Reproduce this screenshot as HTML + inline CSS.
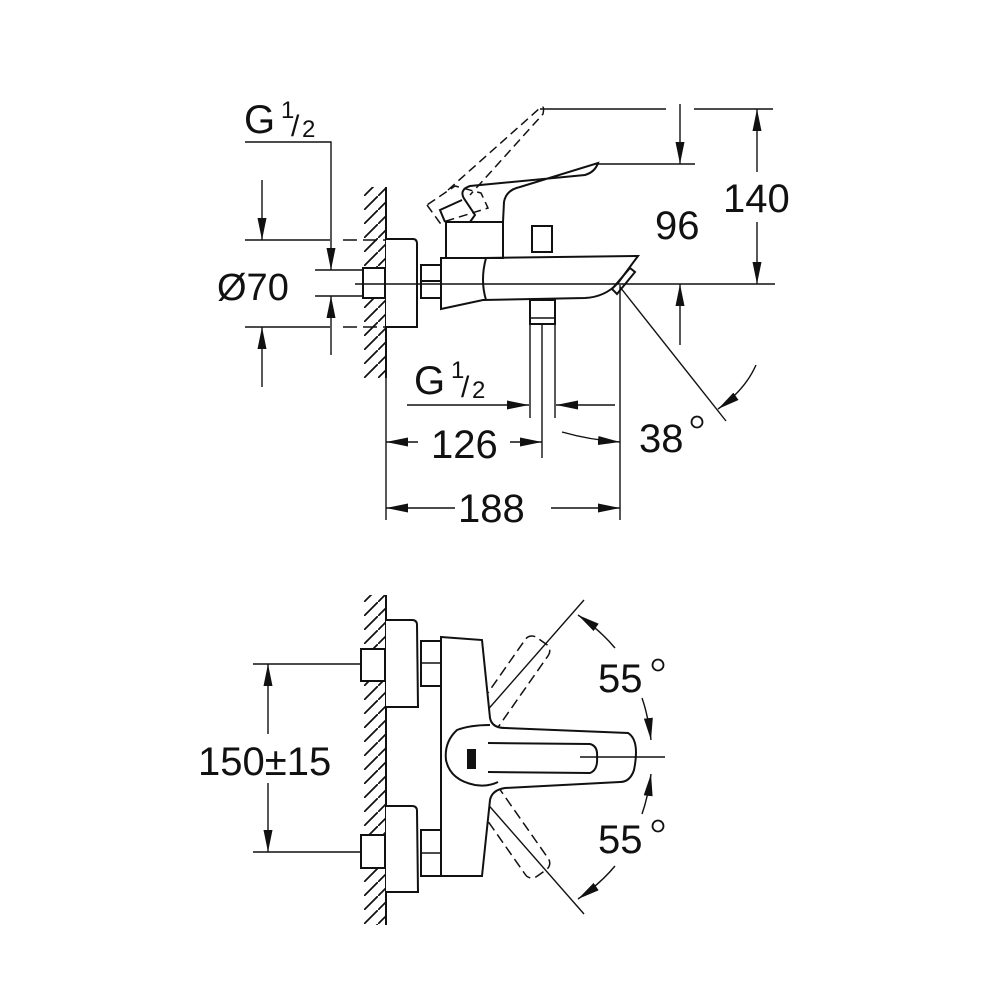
<!DOCTYPE html>
<html><head><meta charset="utf-8"><style>
html,body{margin:0;padding:0;background:#fff}
svg{display:block}
text{font-family:"Liberation Sans",sans-serif;fill:#111}
</style></head><body>
<svg width="1000" height="1000" viewBox="0 0 1000 1000" xmlns="http://www.w3.org/2000/svg">
<defs>
<pattern id="h" width="14" height="14" patternUnits="userSpaceOnUse">
<path d="M-3.5 17.5 L17.5 -3.5" stroke="#111" stroke-width="1.8"/>
</pattern>
<marker id="a" viewBox="0 0 22 9" refX="22" refY="4.5" markerWidth="22" markerHeight="9" markerUnits="userSpaceOnUse" orient="auto"><path d="M0 0 L22 4.5 L0 9z" fill="#111"/></marker>
</defs>
<g fill="none" stroke="#111" stroke-width="2">
<!-- TOP VIEW -->
<rect x="364" y="187" width="22" height="191" fill="url(#h)" stroke="none"/>
<line x1="386" y1="187" x2="386" y2="378"/>
<line x1="386" y1="378" x2="386" y2="520" stroke-width="1.4"/>
<polyline points="245,142 331,142 331,270" stroke-width="1.4" marker-end="url(#a)"/>
<line x1="331" y1="355" x2="331" y2="296" stroke-width="1.4" marker-end="url(#a)"/>
<line x1="245" y1="240" x2="330" y2="240" stroke-width="1.4"/>
<line x1="343" y1="240" x2="386" y2="240" stroke-width="1.4" stroke-dasharray="14,6"/>
<line x1="245" y1="327" x2="330" y2="327" stroke-width="1.4"/>
<line x1="343" y1="327" x2="386" y2="327" stroke-width="1.4" stroke-dasharray="14,6"/>
<line x1="262" y1="180" x2="262" y2="240" stroke-width="1.4" marker-end="url(#a)"/>
<line x1="262" y1="387" x2="262" y2="327" stroke-width="1.4" marker-end="url(#a)"/>
<line x1="315" y1="270" x2="362" y2="270" stroke-width="1.4"/>
<line x1="315" y1="296" x2="362" y2="296" stroke-width="1.4"/>
<path d="M386 239 H413 Q417 239 417 244 L417 327 H386" fill="#fff"/>
<rect x="363" y="268" width="22" height="30" fill="#fff"/>
<rect x="421" y="265" width="20" height="33"/>
<line x1="421" y1="281" x2="441" y2="281"/>
<line x1="355" y1="284" x2="775" y2="284" stroke-width="1.4"/>
<path d="M441 258 H483 L638 256 L618 283 Q605 297 585 298 L483 300 L441 309 Z"/>
<path d="M486 258 Q480 280 486 300"/>
<rect x="446" y="222" width="57" height="36"/>
<path d="M503 222 L504 202 Q506 190 520 187 L598 163 Q595 172 585 175 L470 186 Q458 190 465 200 L475 215 L470 222"/>
<path d="M462 200 L440 210 L445 222"/>
<g stroke-dasharray="9,5" stroke-width="1.5">
<path d="M427 205 L440 223 L488 208 L481 193 L455 186 Z"/>
<path d="M448 190 L540 108 Q545 104 543 114 L470 195"/>
</g>
<rect x="532" y="226" width="20" height="26"/>
<path d="M612 289 L630 268 L635 272 L617 294 Z"/>
<line x1="540" y1="109" x2="666" y2="109" stroke-width="1.4"/>
<line x1="694" y1="109" x2="773" y2="109" stroke-width="1.4"/>
<line x1="598" y1="164" x2="695" y2="164" stroke-width="1.4"/>
<line x1="680" y1="104" x2="680" y2="164" stroke-width="1.4" marker-end="url(#a)"/>
<line x1="680" y1="345" x2="680" y2="284" stroke-width="1.4" marker-end="url(#a)"/>
<line x1="757" y1="172" x2="757" y2="109" stroke-width="1.4" marker-end="url(#a)"/>
<line x1="757" y1="222" x2="757" y2="284" stroke-width="1.4" marker-end="url(#a)"/>
<rect x="530" y="300" width="25" height="24"/>
<line x1="530" y1="318" x2="555" y2="318" stroke-width="1.4"/>
<line x1="530" y1="324" x2="530" y2="418" stroke-width="1.4"/>
<line x1="555" y1="324" x2="555" y2="418" stroke-width="1.4"/>
<line x1="542" y1="324" x2="542" y2="458" stroke-width="1.4"/>
<line x1="407" y1="405" x2="529" y2="405" stroke-width="1.4" marker-end="url(#a)"/>
<line x1="615" y1="405" x2="556" y2="405" stroke-width="1.4" marker-end="url(#a)"/>
<line x1="620" y1="285" x2="620" y2="520" stroke-width="1.4"/>
<line x1="418" y1="442" x2="386" y2="442" stroke-width="1.4" marker-end="url(#a)"/>
<line x1="510" y1="442" x2="542" y2="442" stroke-width="1.4" marker-end="url(#a)"/>
<path d="M562 432 Q590 440 620 442" stroke-width="1.4" marker-end="url(#a)"/>
<line x1="455" y1="508" x2="386" y2="508" stroke-width="1.4" marker-end="url(#a)"/>
<line x1="551" y1="508" x2="620" y2="508" stroke-width="1.4" marker-end="url(#a)"/>
<line x1="620" y1="287" x2="726" y2="421" stroke-width="1.4"/>
<path d="M756 365 Q745 390 718 409" stroke-width="1.4" marker-end="url(#a)"/>

<!-- BOTTOM VIEW -->
<rect x="364" y="595" width="22" height="330" fill="url(#h)" stroke="none"/>
<line x1="386" y1="595" x2="386" y2="925"/>
<path d="M386 620 H412 Q417 620 417 625 L418 707 H386" fill="#fff"/>
<path d="M386 806 H412 Q417 806 417 811 L418 892 H386" fill="#fff"/>
<rect x="361" y="649" width="24" height="32" fill="#fff"/>
<rect x="361" y="835" width="24" height="33" fill="#fff"/>
<rect x="421" y="641" width="20" height="45"/>
<line x1="421" y1="663" x2="441" y2="663" stroke-width="1.4"/>
<rect x="421" y="830" width="20" height="46"/>
<line x1="421" y1="853" x2="441" y2="853" stroke-width="1.4"/>
<line x1="253" y1="664" x2="362" y2="664" stroke-width="1.4"/>
<line x1="253" y1="852" x2="362" y2="852" stroke-width="1.4"/>
<line x1="268" y1="734" x2="268" y2="664" stroke-width="1.4" marker-end="url(#a)"/>
<line x1="268" y1="783" x2="268" y2="852" stroke-width="1.4" marker-end="url(#a)"/>
<g stroke-dasharray="10,5" stroke-width="1.5">
<rect x="-60" y="-14" width="120" height="28" rx="8" transform="translate(507,690) rotate(-55)"/>
<rect x="-60" y="-14" width="120" height="28" rx="8" transform="translate(507,824) rotate(55)"/>
</g>
<line x1="470" y1="730" x2="584" y2="600" stroke-width="1.4"/>
<line x1="470" y1="784" x2="584" y2="914" stroke-width="1.4"/>
<path d="M441 637 L482 640 L490 718 Q492 728 505 728 L628 733 Q640 740 634 770 Q630 782 620 782 L505 788 Q492 790 490 800 L482 876 L441 876 Z" fill="#fff"/>
<path d="M490 725 Q470 725 457 730 Q444 742 446 760 Q450 780 475 785 Q488 787 498 782"/>
<path d="M488 743 L590 744 Q598 746 597 757 Q598 770 590 773 L488 772"/>
<rect x="468" y="750" width="7" height="18" fill="#111"/>
<line x1="580" y1="757" x2="665" y2="757" stroke-width="1.4"/>
<path d="M615 648 Q600 630 578 615" stroke-width="1.4" marker-end="url(#a)"/>
<path d="M642 698 Q648 715 651 740" stroke-width="1.4" marker-end="url(#a)"/>
<path d="M642 814 Q648 797 651 774" stroke-width="1.4" marker-end="url(#a)"/>
<path d="M615 866 Q600 884 578 899" stroke-width="1.4" marker-end="url(#a)"/>
</g>
<g fill="none" stroke="#111" stroke-width="1.8">
<circle cx="697" cy="422" r="5.5"/>
<circle cx="658" cy="665" r="5.5"/>
<circle cx="658" cy="826" r="5.5"/>
</g>
<text x="244" y="133" font-size="40">G</text>
<text x="281" y="118" font-size="24">1</text>
<text x="291" y="136" font-size="30">/</text>
<text x="302" y="137" font-size="24">2</text>
<text x="217" y="300" font-size="38">Ø70</text>
<text x="655" y="239" font-size="40">96</text>
<text x="723" y="212" font-size="40">140</text>
<text x="414" y="394" font-size="40">G</text>
<text x="451" y="378" font-size="24">1</text>
<text x="461" y="397" font-size="30">/</text>
<text x="472" y="398" font-size="24">2</text>
<text x="431" y="458" font-size="40">126</text>
<text x="639" y="452" font-size="40">38</text>
<text x="458" y="522" font-size="40">188</text>
<text x="198" y="775" font-size="40">150±15</text>
<text x="598" y="692" font-size="40">55</text>
<text x="598" y="853" font-size="40">55</text>
</svg>
</body></html>
